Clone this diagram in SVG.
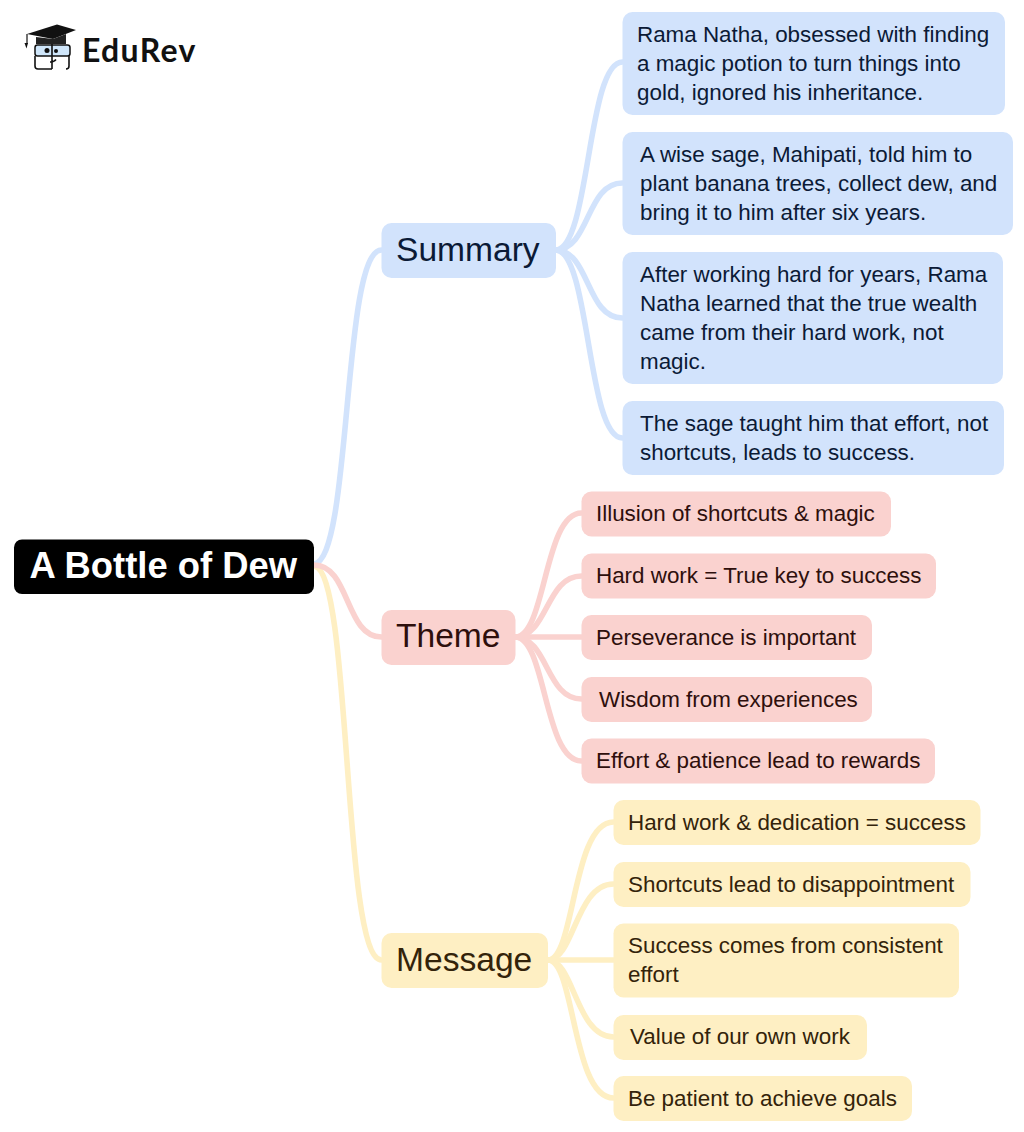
<svg xmlns="http://www.w3.org/2000/svg" width="1024" height="1132" viewBox="0 0 1024 1132">
<style>
text{font-family:"Liberation Sans",Arial,sans-serif}
.c{fill:none;stroke-width:5.600;stroke-linecap:round}
.b{stroke:#d2e3fc}.r{stroke:#fad2cf}.y{stroke:#feefc3}
.fb{fill:#d2e3fc}.fr{fill:#fad2cf}.fy{fill:#feefc3}
.tb{fill:#0b1a36}.tr{fill:#2e0f0c}.ty{fill:#33230a}
.l{font-size:22.4px}.m{font-size:33.6px}
.lg{fill:none;stroke:#111;stroke-width:1.6}
</style>
<rect width="1024" height="1132" fill="#fff"/>
<g id="logo">
<path d="M27 34 L57 24.500 L76 30 L53 39 Z" fill="#111"/>
<path d="M36 37 L53 39 L66 34 V44 H36 Z" fill="#222"/>
<path d="M27 34 V44" stroke="#111" stroke-width="1.2" fill="none"/>
<path d="M24.500 43 H28 L26.500 48.500 Z" fill="#111"/>
<rect x="35" y="45" width="35" height="11" rx="2.500" fill="#cfe6fa" stroke="#111" stroke-width="1.500"/>
<circle cx="47" cy="50.500" r="2.500" fill="#111"/><circle cx="56" cy="51" r="2" fill="#111"/>
<path class="lg" d="M35 56 V66 Q35 69 38 69 H52 M69 56 V66 Q69 69 66 69 M52 44 V69 M50 62 Q54 62 56 59.500"/>
<text x="82" y="62" font-size="32" font-weight="700" letter-spacing="1.300" fill="#111" style="font-family:Lato,'Open Sans',sans-serif">EduRev</text>
</g>
<g id="connectors">
<path class="c b" d="M314 564 C352 560 342 250 381.500 250"/>
<path class="c y" d="M314 566 C352 570 342 960 381.500 960"/>
<path class="c r" d="M314 565 C350 565 345 637 381.500 637"/>
<path class="c b" d="M556 250 C590 248 587 62 622.500 62"/>
<path class="c b" d="M556 250 C590 249 586 183 622.500 183"/>
<path class="c b" d="M556 250 C590 251 586 318 622.500 318"/>
<path class="c b" d="M556 250 C590 252 587 438 622.500 438"/>
<path class="c r" d="M515.500 637 C546 636 544 513 581.500 513"/>
<path class="c r" d="M515.500 637 C548 636 546 576 581.500 576"/>
<path class="c r" d="M515.500 637 H581.500"/>
<path class="c r" d="M515.500 637 C548 638 546 699 581.500 699"/>
<path class="c r" d="M515.500 637 C546 638 544 761 581.500 761"/>
<path class="c y" d="M548 960 C575 960 572 822 613.500 822"/>
<path class="c y" d="M548 960 C574 960 576 884 613.500 884"/>
<path class="c y" d="M548 960 H613.500"/>
<path class="c y" d="M548 960 C574 960 576 1037 613.500 1037"/>
<path class="c y" d="M548 960 C575 960 572 1098 613.500 1098"/>
</g>
<g id="root"><rect x="14" y="539.500" width="300" height="54.500" rx="8" fill="#000"/><text x="29.500" y="578" font-size="36.400" font-weight="700" fill="#fff">A Bottle of Dew</text></g>
<g id="summary"><rect class="fb" x="381.500" y="223" width="174.500" height="55" rx="10"/><text class="m tb" x="396" y="261">Summary</text></g>
<g id="theme"><rect class="fr" x="381.500" y="610" width="134" height="55" rx="10"/><text class="m tr" x="396" y="647">Theme</text></g>
<g id="message"><rect class="fy" x="381.500" y="933" width="166.500" height="55" rx="10"/><text class="m ty" x="396" y="971">Message</text></g>
<g id="s1"><rect class="fb" x="622.500" y="12" width="382.500" height="103" rx="10"/><text class="l tb" x="637" y="42">Rama Natha, obsessed with finding</text><text class="l tb" x="637" y="71">a magic potion to turn things into</text><text class="l tb" x="637" y="100">gold, ignored his inheritance.</text></g>
<g id="s2"><rect class="fb" x="622.500" y="132" width="390.500" height="103" rx="10"/><text class="l tb" x="640" y="162">A wise sage, Mahipati, told him to</text><text class="l tb" x="640" y="191">plant banana trees, collect dew, and</text><text class="l tb" x="640" y="220">bring it to him after six years.</text></g>
<g id="s3"><rect class="fb" x="622.500" y="252" width="380.500" height="132" rx="10"/><text class="l tb" x="640" y="282">After working hard for years, Rama</text><text class="l tb" x="640" y="311">Natha learned that the true wealth</text><text class="l tb" x="640" y="340">came from their hard work, not</text><text class="l tb" x="640" y="369">magic.</text></g>
<g id="s4"><rect class="fb" x="622.500" y="401" width="381.500" height="74" rx="10"/><text class="l tb" x="640" y="431">The sage taught him that effort, not</text><text class="l tb" x="640" y="460">shortcuts, leads to success.</text></g>
<g id="t1"><rect class="fr" x="581.500" y="491.500" width="309.500" height="45" rx="10"/><text class="l tr" x="596" y="521">Illusion of shortcuts &amp; magic</text></g>
<g id="t2"><rect class="fr" x="581.500" y="553.500" width="354.500" height="45" rx="10"/><text class="l tr" x="596" y="583">Hard work = True key to success</text></g>
<g id="t3"><rect class="fr" x="581.500" y="615" width="290.500" height="45" rx="10"/><text class="l tr" x="596" y="645">Perseverance is important</text></g>
<g id="t4"><rect class="fr" x="581.500" y="677" width="290.500" height="45" rx="10"/><text class="l tr" x="599" y="707">Wisdom from experiences</text></g>
<g id="t5"><rect class="fr" x="581.500" y="738.500" width="353.500" height="45" rx="10"/><text class="l tr" x="596" y="768">Effort &amp; patience lead to rewards</text></g>
<g id="m1"><rect class="fy" x="613.500" y="800" width="367" height="45" rx="10"/><text class="l ty" x="628" y="830">Hard work &amp; dedication = success</text></g>
<g id="m2"><rect class="fy" x="613.500" y="862" width="357" height="45" rx="10"/><text class="l ty" x="628" y="892">Shortcuts lead to disappointment</text></g>
<g id="m3"><rect class="fy" x="613.500" y="923.500" width="345.500" height="74" rx="10"/><text class="l ty" x="628" y="953">Success comes from consistent</text><text class="l ty" x="628" y="982">effort</text></g>
<g id="m4"><rect class="fy" x="613.500" y="1015" width="253.500" height="45" rx="10"/><text class="l ty" x="630" y="1044">Value of our own work</text></g>
<g id="m5"><rect class="fy" x="613.500" y="1076" width="298.500" height="45" rx="10"/><text class="l ty" x="628" y="1106">Be patient to achieve goals</text></g>
</svg>
